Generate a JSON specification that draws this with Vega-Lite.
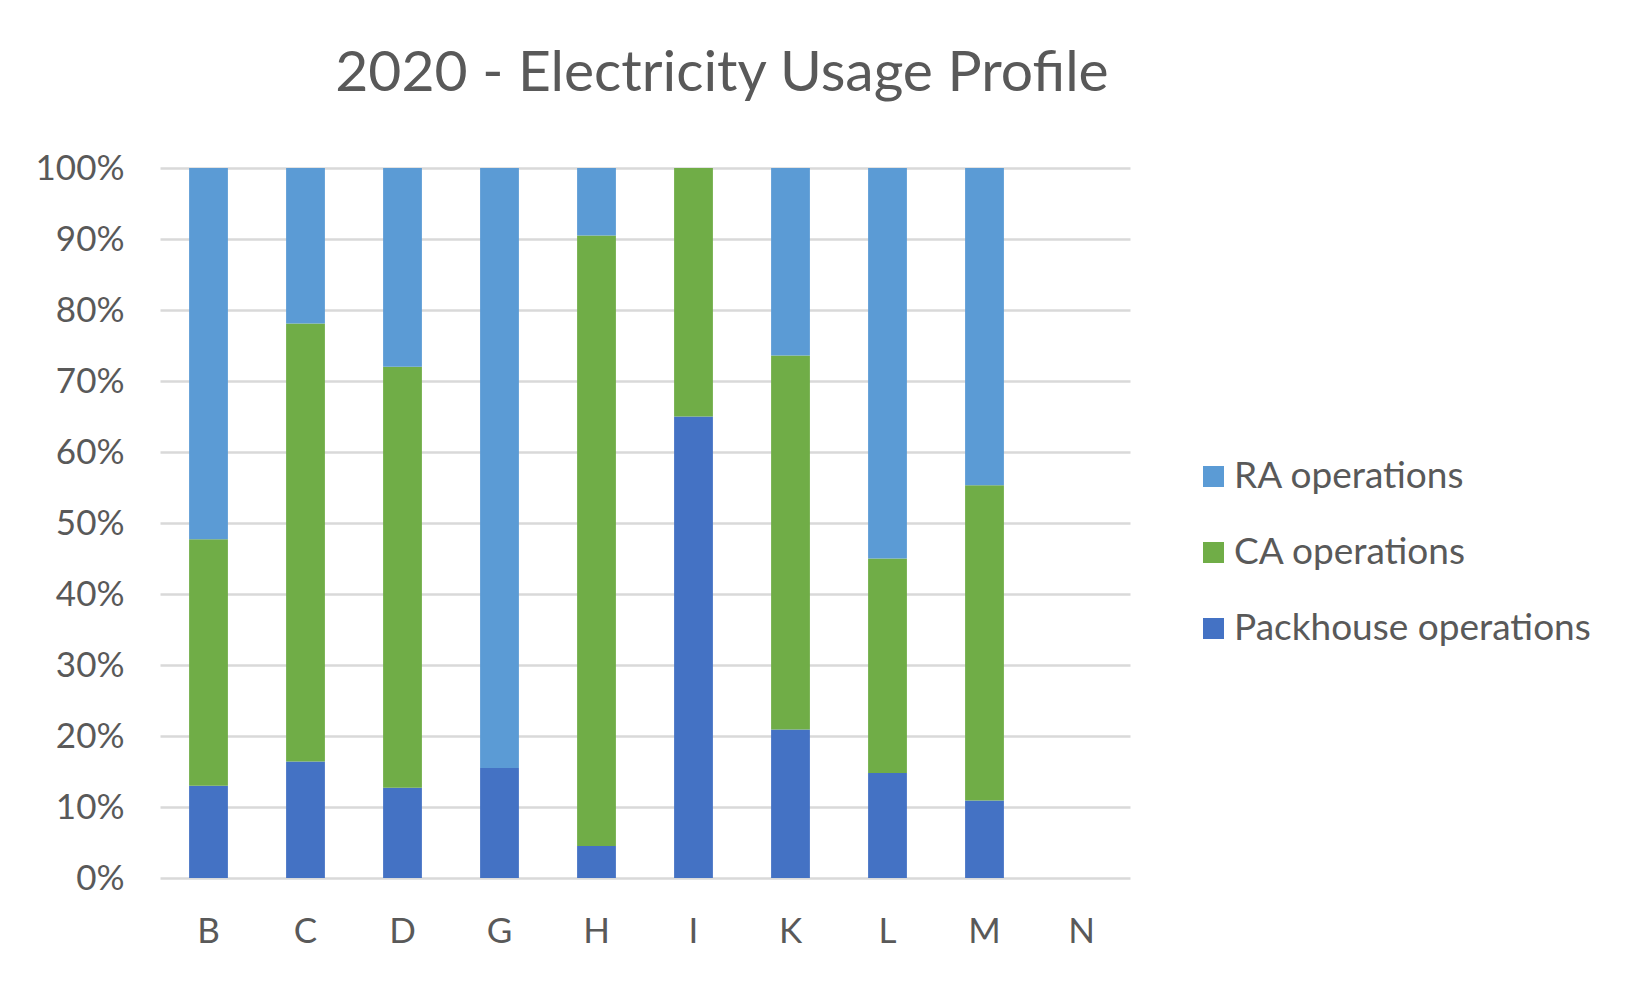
{
  "$schema": "https://vega.github.io/schema/vega-lite/v6.json",
  "autosize": {"type": "none"},
  "width": 970,
  "height": 710,
  "padding": {"left": 160, "top": 168, "right": 510, "bottom": 105},
  "background": "white",
  "title": {
    "text": "2020 - Electricity Usage Profile",
    "font": "Lato",
    "fontSize": 57,
    "fontWeight": "normal",
    "color": "#595959",
    "anchor": "middle",
    "dx": 77,
    "offset": 48
  },
  "data": {
    "values": [
      {"site": "B", "series": "Packhouse operations", "share": 0.130},
      {"site": "B", "series": "CA operations", "share": 0.347},
      {"site": "B", "series": "RA operations", "share": 0.523},
      {"site": "C", "series": "Packhouse operations", "share": 0.164},
      {"site": "C", "series": "CA operations", "share": 0.617},
      {"site": "C", "series": "RA operations", "share": 0.219},
      {"site": "D", "series": "Packhouse operations", "share": 0.127},
      {"site": "D", "series": "CA operations", "share": 0.593},
      {"site": "D", "series": "RA operations", "share": 0.280},
      {"site": "G", "series": "Packhouse operations", "share": 0.155},
      {"site": "G", "series": "RA operations", "share": 0.845},
      {"site": "H", "series": "Packhouse operations", "share": 0.045},
      {"site": "H", "series": "CA operations", "share": 0.860},
      {"site": "H", "series": "RA operations", "share": 0.095},
      {"site": "I", "series": "Packhouse operations", "share": 0.650},
      {"site": "I", "series": "CA operations", "share": 0.350},
      {"site": "K", "series": "Packhouse operations", "share": 0.209},
      {"site": "K", "series": "CA operations", "share": 0.527},
      {"site": "K", "series": "RA operations", "share": 0.264},
      {"site": "L", "series": "Packhouse operations", "share": 0.148},
      {"site": "L", "series": "CA operations", "share": 0.302},
      {"site": "L", "series": "RA operations", "share": 0.550},
      {"site": "M", "series": "Packhouse operations", "share": 0.109},
      {"site": "M", "series": "CA operations", "share": 0.444},
      {"site": "M", "series": "RA operations", "share": 0.447}
    ]
  },
  "transform": [
    {"calculate": "indexof(['Packhouse operations', 'CA operations', 'RA operations'], datum.series)", "as": "stackOrder"}
  ],
  "mark": {"type": "bar"},
  "encoding": {
    "x": {
      "field": "site",
      "type": "nominal",
      "scale": {"domain": ["B", "C", "D", "G", "H", "I", "K", "L", "M", "N"], "paddingInner": 0.6, "paddingOuter": 0.3},
      "axis": {
        "title": null,
        "labelAngle": 0,
        "labelFont": "Lato",
        "labelFontSize": 35,
        "labelColor": "#595959",
        "labelPadding": 36,
        "ticks": false,
        "domain": false,
        "grid": false
      }
    },
    "y": {
      "field": "share",
      "type": "quantitative",
      "stack": "zero",
      "scale": {"domain": [0, 1], "nice": false},
      "axis": {
        "title": null,
        "format": ".0%",
        "values": [0, 0.1, 0.2, 0.3, 0.4, 0.5, 0.6, 0.7, 0.8, 0.9, 1],
        "labelFont": "Lato",
        "labelFontSize": 35,
        "labelColor": "#595959",
        "labelPadding": 36,
        "ticks": false,
        "domain": false,
        "grid": true,
        "gridColor": "#d9d9d9",
        "gridWidth": 2.5
      }
    },
    "order": {"field": "stackOrder", "type": "quantitative", "sort": "ascending"},
    "color": {
      "field": "series",
      "type": "nominal",
      "scale": {
        "domain": ["RA operations", "CA operations", "Packhouse operations"],
        "range": ["#5B9BD5", "#70AD47", "#4472C4"]
      },
      "legend": {
        "title": null,
        "orient": "none",
        "legendX": 1035,
        "legendY": 290,
        "symbolType": "square",
        "symbolSize": 441,
        "symbolStrokeWidth": 0,
        "symbolOpacity": 1,
        "labelFont": "Lato",
        "labelFontSize": 37,
        "labelColor": "#595959",
        "labelOffset": 2,
        "rowPadding": 38,
        "labelLimit": 600
      }
    }
  },
  "config": {
    "view": {"stroke": null}
  }
}
